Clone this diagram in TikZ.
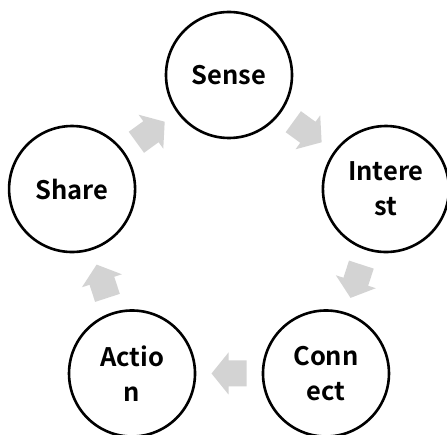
\documentclass[tikz,border=0pt]{standalone}
\usepackage{fontspec}
\usetikzlibrary{calc}
\newfontfamily\cjk{Noto Sans CJK SC}[BoldFont={Noto Sans CJK SC Bold}]
\definecolor{arrowgray}{RGB}{211,211,211}
\tikzset{
  stage/.style={circle, draw=black, line width=2.6pt, minimum size=126pt, inner sep=0pt,
    align=center, font=\cjk\bfseries\fontsize{25.5}{35}\selectfont},
  blockarrow/.style={fill=arrowgray, draw=none}
}
\newcommand{\blockarr}[2]{% #1 = position, #2 = angle
  \begin{scope}[shift={#1}, rotate=#2]
    \fill[blockarrow] (-17.5pt,-13pt) -- (0.5pt,-13pt) -- (0.5pt,-21pt) -- (17.5pt,0pt)
      -- (0.5pt,21pt) -- (0.5pt,13pt) -- (-17.5pt,13pt) -- cycle;
  \end{scope}}
\begin{document}
\begin{tikzpicture}[x=1pt,y=1pt]
\useasboundingbox (0,0) rectangle (447,434);
\clip (0,0) rectangle (447,434);
\coordinate (c) at (229,194);
\node[stage] (sense) at ($(c)+(90:165)$) {Sense};
\node[stage] (interest) at ($(c)+(18:165)$) {Intere\\st};
\node[stage] (connect) at ($(c)+(-54:165)$) {Conn\\ect};
\node[stage] (action) at ($(c)+(-126:165)$) {Actio\\n};
\node[stage] (share) at ($(c)+(162:165)$) {Share};
\blockarr{($(sense)!0.5!(interest)$)}{-36}
\blockarr{($(interest)!0.5!(connect)$)}{-108}
\blockarr{($(connect)!0.5!(action)$)}{180}
\blockarr{($(action)!0.5!(share)$)}{108}
\blockarr{($(share)!0.5!(sense)$)}{36}
\end{tikzpicture}
\end{document}
